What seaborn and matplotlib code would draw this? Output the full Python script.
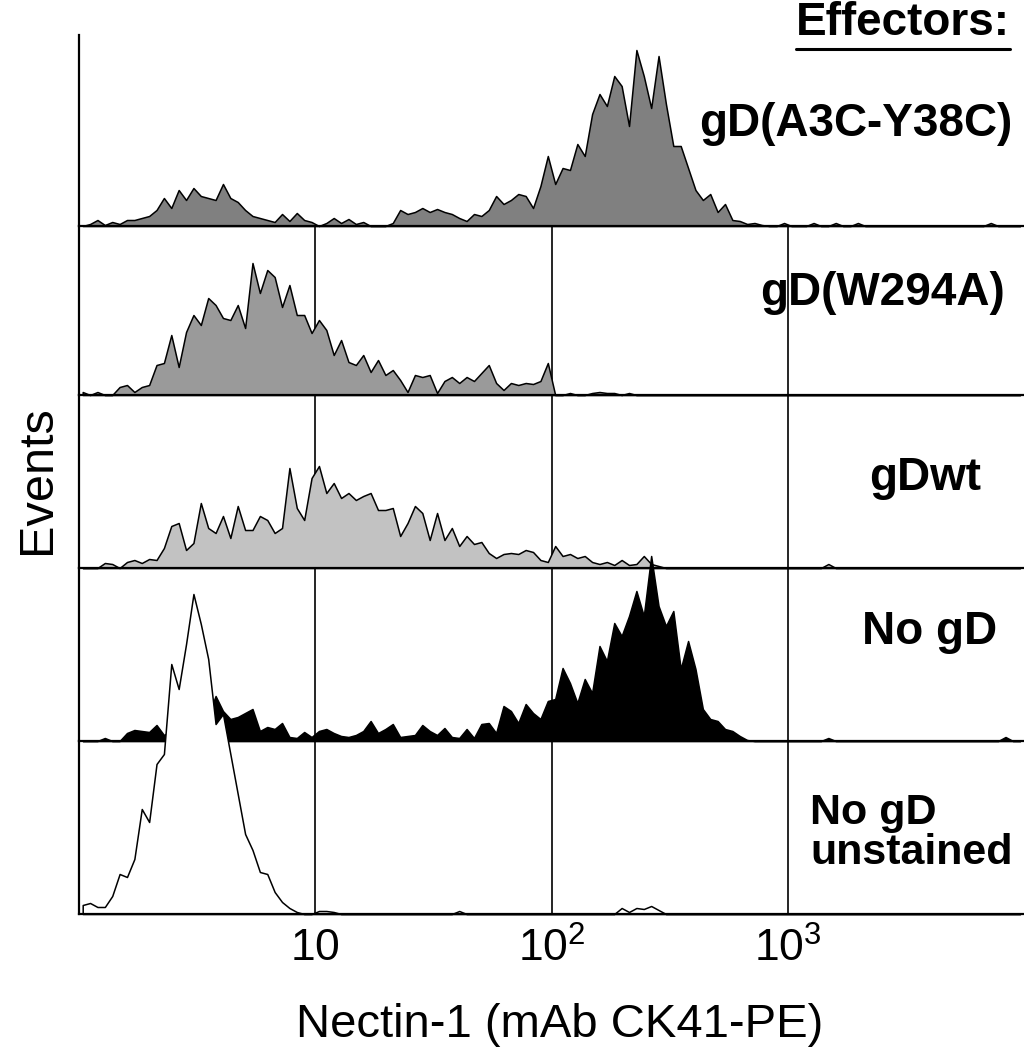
import numpy as np
import pandas as pd
import matplotlib
matplotlib.use("Agg")
import matplotlib.pyplot as plt
from matplotlib.lines import Line2D
import seaborn as sns

# 4 log decades (1 .. 10^4), 32 channels per decade
n_per_decade = 32
n_channels = 128

# event counts per channel (pixel heights)
a3c_y38c = [0, 2, 6, 1, 4, 2, 6, 6, 8, 10,
            16, 28, 18, 36, 26, 38, 30, 28, 26, 42,
            28, 24, 16, 10, 8, 6, 4, 12, 5, 13,
            6, 4, 0, 3, 8, 3, 7, 2, 4, 0,
            0, 0, 3, 16, 12, 14, 18, 14, 17, 14,
            12, 8, 5, 12, 10, 16, 30, 22, 26, 32,
            30, 18, 40, 70, 42, 58, 56, 82, 70, 112,
            132, 120, 150, 140, 100, 176, 150, 118, 170, 122,
            80, 80, 58, 36, 26, 32, 14, 22, 6, 5,
            2, 3, 1, 0, 0, 3, 0, 0, 0, 3,
            0, 0, 3, 0, 0, 3, 0, 0, 0, 0,
            0, 0, 0, 0, 0, 0, 0, 0, 0, 0,
            0, 0, 0, 3, 0, 0, 0, 0]

w294a = [3, 0, 3, 0, 0, 8, 10, 3, 8, 10,
         30, 32, 60, 28, 63, 80, 70, 97, 90, 77,
         75, 90, 67, 132, 102, 125, 118, 88, 110, 80,
         80, 62, 75, 65, 40, 55, 33, 30, 40, 23,
         35, 20, 25, 15, 3, 20, 18, 20, 2, 14,
         18, 12, 18, 14, 22, 30, 12, 5, 12, 10,
         12, 11, 14, 32, 0, 0, 2, 0, 0, 2,
         3, 2, 2, 0, 2, 0, 0, 0, 0, 0,
         0, 0, 0, 0, 0, 0, 0, 0, 0, 0,
         0, 0, 0, 0, 0, 0, 0, 0, 0, 0,
         0, 0, 0, 0, 0, 0, 0, 0, 0, 0,
         0, 0, 0, 0, 0, 0, 0, 0, 0, 0,
         0, 0, 0, 0, 0, 0, 0, 0]

gd_wt = [0, 0, 0, 5, 4, 0, 6, 8, 5, 9,
         8, 20, 42, 45, 18, 25, 65, 40, 35, 52,
         30, 62, 38, 38, 52, 48, 35, 40, 100, 60,
         48, 90, 102, 75, 85, 70, 75, 68, 72, 75,
         58, 58, 60, 32, 45, 62, 55, 28, 55, 28,
         40, 22, 32, 24, 26, 15, 10, 14, 15, 14,
         18, 16, 8, 6, 22, 12, 14, 10, 12, 6,
         4, 6, 3, 8, 3, 4, 12, 4, 2, 0,
         0, 0, 0, 0, 0, 0, 0, 0, 0, 0,
         0, 0, 0, 0, 0, 0, 0, 0, 0, 0,
         0, 4, 0, 0, 0, 0, 0, 0, 0, 0,
         0, 0, 0, 0, 0, 0, 0, 0, 0, 0,
         0, 0, 0, 0, 0, 0, 0, 0]

no_gd = [0, 0, 0, 3, 0, 0, 8, 11, 10, 9,
         16, 6, 10, 12, 14, 15, 18, 25, 45, 30,
         22, 24, 28, 32, 10, 14, 12, 18, 4, 3,
         9, 4, 10, 12, 8, 5, 4, 6, 10, 20,
         8, 12, 17, 4, 5, 6, 16, 10, 6, 13,
         4, 3, 12, 3, 17, 18, 8, 35, 30, 18,
         37, 28, 22, 40, 42, 73, 58, 38, 62, 48,
         95, 80, 118, 105, 125, 150, 125, 185, 135, 115,
         130, 72, 100, 72, 32, 22, 20, 12, 10, 5,
         1, 0, 0, 0, 0, 0, 0, 0, 0, 0,
         0, 3, 0, 0, 0, 0, 0, 0, 0, 0,
         0, 0, 0, 0, 0, 0, 0, 0, 0, 0,
         0, 0, 0, 0, 0, 4, 0, 0]

unstained = [9, 11, 7, 7, 18, 40, 37, 55, 105, 92,
             150, 160, 250, 225, 270, 320, 290, 255, 190, 200,
             160, 120, 80, 64, 42, 40, 22, 12, 6, 2,
             0, 0, 3, 3, 2, 0, 0, 0, 0, 0,
             0, 0, 0, 0, 0, 0, 0, 0, 0, 0,
             0, 3, 0, 0, 0, 0, 0, 0, 0, 0,
             0, 0, 0, 0, 0, 0, 0, 0, 0, 0,
             0, 0, 0, 6, 2, 6, 5, 8, 4, 0,
             0, 0, 0, 0, 0, 0, 0, 0, 0, 0,
             0, 0, 0, 0, 0, 0, 0, 0, 0, 0,
             0, 0, 0, 0, 0, 0, 0, 0, 0, 0,
             0, 0, 0, 0, 0, 0, 0, 0, 0, 0,
             0, 0, 0, 0, 0, 0, 0, 0]

labels = ["gD(A3C-Y38C)", "gD(W294A)", "gDwt", "No gD", "No gD\nunstained"]
tick_pos = [1, 2, 3]
tick_labels = [r"$\mathregular{10}$", r"$\mathregular{10^2}$", r"$\mathregular{10^3}$"]

sns.set_style("white")
plt.rcParams['font.family'] = ['Liberation Sans', 'DejaVu Sans']
plt.rcParams['text.color'] = 'black'
plt.rcParams['xtick.color'] = 'black'
plt.rcParams['mathtext.fontset'] = 'custom'
plt.rcParams['mathtext.rm'] = 'Liberation Sans'

W, H = 1024, 1059
fig = plt.figure(figsize=(W / 100, H / 100), dpi=100)

centers = (np.arange(n_channels) + 0.5) / n_per_decade

# panel top / bottom in pixels
rows = [(35, 226), (226, 395), (395, 568), (568, 741), (741, 914)]
series = [a3c_y38c, w294a, gd_wt, no_gd, unstained]
fills = ["#808080", "#9a9a9a", "#c2c2c2", "black", "white"]
left_px = 79

axes = []
for k, (top, bot) in enumerate(rows):
    ax = fig.add_axes([left_px / W, 1 - bot / H, (W - left_px) / W, (bot - top) / H])
    if k > 0:
        for d in tick_pos:
            ax.axvline(d, color="black", lw=1.2, zorder=0.5)
    df = pd.DataFrame({"channel": centers, "count": series[k]})
    sns.histplot(data=df, x="channel", weights="count",
                 binwidth=1 / n_per_decade, binrange=(0, 4), element="poly",
                 fill=True, color=fills[k], edgecolor="black", linewidth=1.1,
                 alpha=1, ax=ax)
    for c in ax.collections:
        c.set_clip_on(False)
    ax.set_xlim(0, 4)
    ax.set_ylim(0, bot - top)
    ax.set_xlabel("")
    ax.set_ylabel("")
    ax.set_yticks([])
    ax.set_xticks([])
    for s in ["top", "right"]:
        ax.spines[s].set_visible(False)
    for s in ["left", "bottom"]:
        ax.spines[s].set_color("black")
        ax.spines[s].set_linewidth(1.6)
    ax.patch.set_alpha(0)
    axes.append(ax)

ax = axes[-1]
ax.set_xticks(tick_pos)
ax.set_xticklabels(tick_labels, fontsize=32, color="black")
ax.tick_params(axis="x", length=0, pad=10)

fig.text(560 / W, 1 - 1025 / H, "Nectin-1 (mAb CK41-PE)", fontsize=34,
         ha="center", va="center")
fig.text(37 / W, 1 - 480 / H, "Events", fontsize=35, rotation=90,
         ha="center", va="center")

# sample labels on the right
lab_pos = [(856, 124), (882, 293), (925, 478), (930, 632)]
for (x, y), lab in zip(lab_pos, labels[:4]):
    fig.text(x / W, 1 - y / H, lab, fontsize=33, fontweight="bold",
             ha="center", va="center")
fig.text(810 / W, 1 - 833 / H, labels[4], fontsize=31, fontweight="bold",
         ha="left", va="center", linespacing=1.0)

eff = fig.text(903 / W, 1 - 23 / H, "Effectors:", fontsize=33,
               fontweight="bold", ha="center", va="center")
fig.canvas.draw()
bb = eff.get_window_extent()
fig.add_artist(Line2D([bb.x0 / W, bb.x1 / W], [1 - 49 / H, 1 - 49 / H],
                      transform=fig.transFigure, color="black", lw=2.2))

fig.savefig("out.png", dpi=100)
